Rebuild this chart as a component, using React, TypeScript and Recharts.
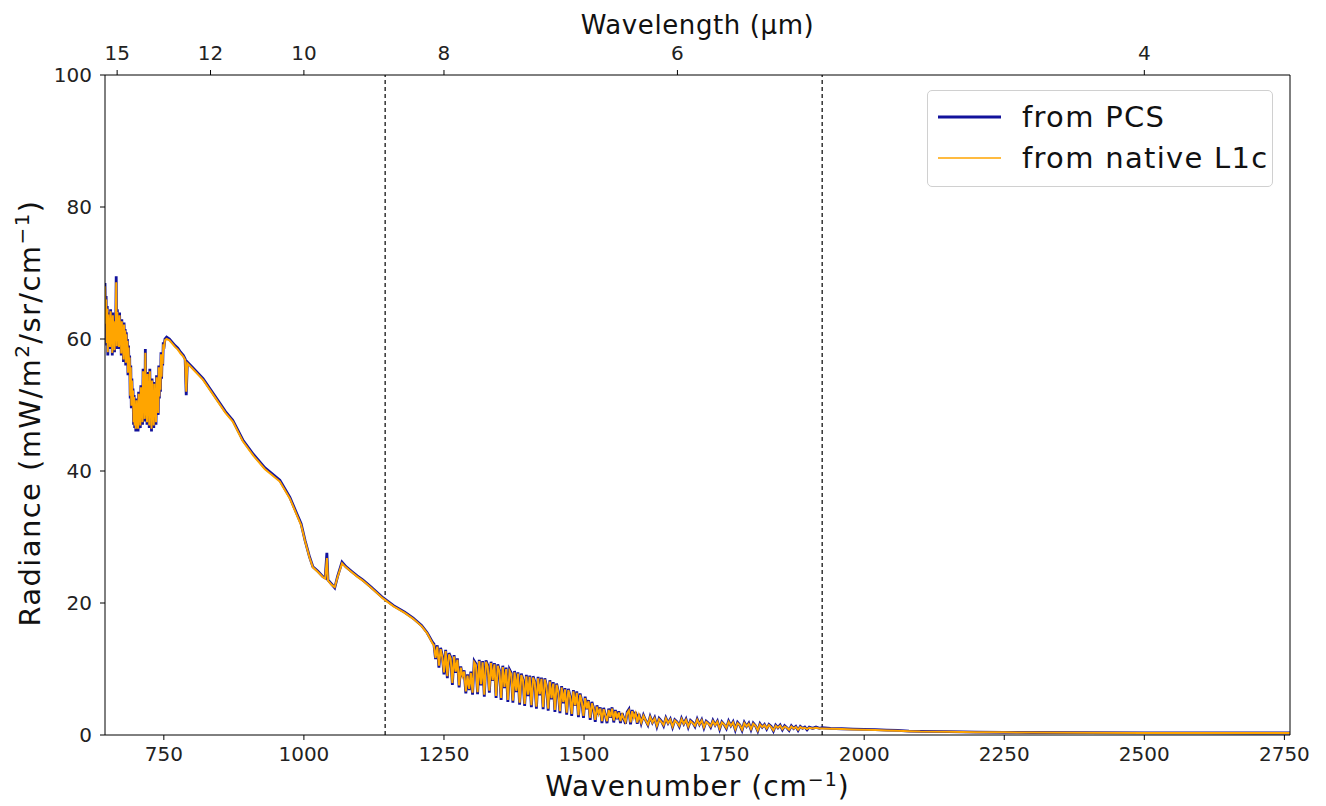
import React from 'react';
import { LineChart, Line, XAxis, YAxis, ReferenceLine } from 'recharts';

// spectrum: wavenumber in cm-1, radiance in mW/m2/sr/cm-1

// CO2 band, 645-752 cm-1
const co2Wn = [
  645, 646, 647, 648, 649, 650, 651, 652, 653, 654, 655, 656, 657, 658, 659, 660, 661, 662, 663, 664,
  665, 666, 667, 668, 669, 670, 671, 672, 673, 674, 675, 676, 677, 678, 679, 680, 681, 682, 683, 684,
  685, 686, 687, 688, 689, 690, 691, 692, 693, 694, 695, 696, 697, 698, 699, 700, 701, 702, 703, 704,
  705, 706, 707, 708, 709, 710, 711, 712, 713, 714, 715, 716, 717, 718, 719, 720, 721, 722, 723, 724,
  725, 726, 727, 728, 729, 730, 731, 732, 733, 734, 735, 736, 737, 738, 739, 740, 741, 742, 743, 744,
  745, 746, 747, 748, 749, 750, 752,
];
const co2Pcs = [
  68.5, 62, 66.5, 59, 65, 57.5, 64, 60.5, 63.5, 58.5, 64.5, 61, 63, 57.5, 64, 60, 62.5, 58, 63, 60.5,
  69.5, 58.5, 64.5, 61, 63, 58.5, 64, 60, 62.5, 57.5, 63, 59.5, 62, 56.5, 62.5, 59, 61.5, 56, 61, 57.5,
  60, 54.5, 59, 55, 57.5, 51, 56, 49.5, 54, 50, 52.5, 47, 51.5, 46.5, 50, 46, 51, 47.5, 49, 46,
  52, 48, 50.5, 46.5, 53, 48.5, 51, 47, 55.5, 49.5, 53, 47.5, 58.5, 48, 54.5, 47, 55, 49, 52.5, 46.5,
  55.5, 48.5, 53, 46, 54, 47.5, 52, 46.5, 53.5, 48, 52.5, 47, 54.5, 49.5, 53, 48.5, 56, 51, 55.5, 52,
  58, 54, 57.5, 56, 59.5, 58.5, 60,
];
const co2L1c = [
  68, 62.3, 66, 59.4, 64.6, 58, 63.7, 60.7, 63.2, 58.8, 64.2, 61.2, 62.8, 57.9, 63.6, 60.2, 62.3, 58.3, 62.7, 60.6,
  68.6, 58.9, 64.1, 61.2, 62.8, 58.8, 63.6, 60.2, 62.3, 57.8, 62.7, 59.7, 61.8, 56.9, 62.2, 59.2, 61.3, 56.4, 60.7, 57.8,
  59.7, 54.9, 58.7, 55.3, 57.2, 51.4, 55.7, 49.9, 53.7, 50.3, 52.2, 47.4, 51.2, 46.9, 49.7, 46.4, 50.7, 47.8, 48.8, 46.4,
  51.7, 48.3, 50.2, 46.9, 52.7, 48.8, 50.8, 47.4, 55.1, 49.8, 52.7, 47.9, 57.9, 48.4, 54.2, 47.4, 54.7, 49.3, 52.3, 46.9,
  55.1, 48.8, 52.8, 46.4, 53.7, 47.9, 51.8, 46.9, 53.2, 48.3, 52.3, 47.4, 54.2, 49.8, 52.8, 48.8, 55.7, 51.3, 55.2, 52.3,
  57.7, 54.3, 57.2, 56.2, 59.2, 58.4, 59.8,
];

// window region, 755-1230 cm-1
const windowWn = [
  755, 760, 765, 770, 775, 780, 785, 788, 790, 792, 800, 820, 840, 860, 873, 891, 910, 930, 957, 975,
  987, 995, 1002, 1010, 1016, 1025, 1034, 1038, 1041, 1043, 1050, 1055, 1060, 1068, 1075, 1085, 1095, 1105, 1120, 1141,
  1160, 1180, 1195, 1210, 1220, 1230,
];
const windowPcs = [
  60.3, 60, 59.5, 59, 58.6, 58, 57.5, 57, 51.5, 56.5, 55.8, 54, 51.5, 49, 47.7, 44.7, 42.5, 40.5, 38.6, 36,
  33.6, 32, 29.5, 27, 25.5, 24.8, 24, 23.8, 27.6, 23.5, 22.8, 22.3, 24, 26.2, 25.5, 24.8, 24.1, 23.5, 22.4, 20.8,
  19.6, 18.6, 17.7, 16.6, 15.5, 14,
];
const windowL1c = [
  60, 59.8, 59.3, 58.8, 58.4, 57.8, 57.3, 56.8, 52, 56.3, 55.6, 53.8, 51.3, 48.8, 47.5, 44.5, 42.3, 40.3, 38.4, 35.8,
  33.4, 31.8, 29.4, 26.9, 25.4, 24.7, 23.9, 23.7, 26.8, 23.4, 22.7, 22.4, 23.9, 26, 25.4, 24.7, 24, 23.4, 22.3, 20.7,
  19.5, 18.5, 17.6, 16.5, 15.4, 13.8,
];

// water vapour band, 1232-1598 cm-1
const waterWn = [
  1232, 1235, 1238, 1241, 1244, 1247, 1250, 1253, 1256, 1259, 1262, 1265, 1268, 1271, 1274, 1277, 1280, 1283, 1286, 1289,
  1292, 1295, 1298, 1301, 1304, 1307, 1310, 1313, 1316, 1319, 1322, 1325, 1328, 1331, 1334, 1337, 1340, 1343, 1346, 1349,
  1352, 1355, 1358, 1361, 1364, 1367, 1370, 1373, 1376, 1379, 1382, 1385, 1388, 1391, 1394, 1397, 1400, 1403, 1406, 1409,
  1412, 1415, 1418, 1421, 1424, 1427, 1430, 1433, 1436, 1439, 1442, 1445, 1448, 1451, 1454, 1457, 1460, 1463, 1466, 1469,
  1472, 1475, 1478, 1481, 1484, 1487, 1490, 1493, 1496, 1499, 1502, 1505, 1508, 1511, 1514, 1517, 1520, 1523, 1526, 1529,
  1532, 1535, 1538, 1541, 1544, 1547, 1550, 1553, 1556, 1559, 1562, 1565, 1568, 1571, 1574, 1577, 1580, 1583, 1586, 1589,
  1592, 1595, 1598,
];
const waterPcs = [
  13.8, 11.5, 13.6, 10.2, 13.2, 12, 9.2, 12.9, 8.6, 12.4, 11.8, 7.6, 12.1, 9.4, 11.6, 7.2, 10.4, 8.8, 9.8, 6.3,
  9.2, 6.8, 9.6, 6.1, 11.2, 10.8, 6.2, 11.4, 7.5, 11.2, 5.8, 11.3, 10.6, 6.4, 11.1, 8.2, 10.9, 5.6, 10.7, 9.8,
  5.3, 10.5, 7.1, 10.2, 5, 9.9, 9.4, 4.9, 9.7, 6.5, 9.5, 4.6, 9.3, 8.4, 4.4, 9.1, 5.9, 9, 4.2, 8.9,
  8.1, 4, 8.8, 6, 8.7, 3.9, 8.6, 7.4, 3.7, 8.3, 5.4, 8, 3.5, 7.8, 6.6, 3.3, 7.4, 4.8, 7.1, 3.1,
  7, 5.9, 2.9, 6.8, 4.4, 6.6, 2.7, 6.3, 5.1, 2.6, 5.8, 3.9, 5.3, 2.3, 5, 4.1, 2, 4.5, 3.1, 4.2,
  1.8, 4.1, 3, 1.8, 4, 2.6, 4.2, 1.9, 3.8, 2.4, 3.6, 1.8, 3.3, 2.5, 1.7, 3.5, 3.9, 1.6, 3.8, 2.6,
  3.5, 1.7, 3.2,
];
const waterL1c = [
  13.6, 11.7, 13.4, 10.5, 13, 11.8, 9.5, 12.7, 8.9, 12.2, 11.6, 7.9, 11.9, 9.6, 11.4, 7.5, 10.2, 8.9, 9.6, 6.6,
  9, 7, 9.4, 6.4, 11, 10.6, 6.5, 11.2, 7.7, 11, 6.1, 11.1, 10.4, 6.7, 10.9, 8.3, 10.7, 5.9, 10.5, 9.6,
  5.6, 10.3, 7.3, 10, 5.3, 9.7, 9.2, 5.2, 9.5, 6.7, 9.3, 4.9, 9.1, 8.3, 4.7, 8.9, 6.1, 8.8, 4.5, 8.7,
  8, 4.3, 8.6, 6.2, 8.5, 4.2, 8.4, 7.3, 4, 8.1, 5.6, 7.8, 3.8, 7.6, 6.5, 3.6, 7.2, 5, 6.9, 3.4,
  6.8, 5.8, 3.2, 6.6, 4.5, 6.4, 3, 6.1, 5, 2.9, 5.6, 4, 5.1, 2.6, 4.8, 4, 2.3, 4.3, 3.2, 4,
  2.1, 3.9, 3, 2.1, 3.8, 2.7, 4, 2.2, 3.6, 2.5, 3.4, 2.1, 3.1, 2.5, 2, 3.3, 3.7, 1.9, 3.6, 2.6,
  3.3, 1.9, 3,
];

// upper water band, 1602-1925 cm-1
const upperWn = [
  1602, 1606, 1610, 1614, 1618, 1622, 1626, 1630, 1634, 1638, 1642, 1646, 1650, 1654, 1658, 1662, 1666, 1670, 1674, 1678,
  1682, 1686, 1690, 1694, 1698, 1702, 1706, 1710, 1714, 1718, 1722, 1726, 1730, 1734, 1738, 1742, 1746, 1750, 1754, 1758,
  1762, 1766, 1770, 1774, 1778, 1782, 1786, 1790, 1794, 1798, 1802, 1806, 1810, 1814, 1818, 1822, 1826, 1830, 1834, 1838,
  1842, 1846, 1850, 1854, 1858, 1862, 1866, 1870, 1874, 1878, 1882, 1886, 1890, 1894, 1898, 1902, 1908, 1914, 1920, 1925,
];
const upperPcs = [
  1.8, 3, 2.2, 1.5, 2.8, 1.9, 2.6, 1.3, 2.5, 2.1, 1.4, 2.6, 1.8, 2.4, 1.2, 2.3, 2, 1.3, 2.5, 1.7,
  2.4, 1.2, 2.2, 1.9, 1.3, 2.4, 1.6, 2.3, 1.1, 2.1, 1.8, 1.2, 2.2, 1.5, 2.1, 0.9, 2, 1.6, 1, 2.1,
  1.4, 2, 0.8, 1.9, 1.5, 0.7, 1.9, 1.3, 1.8, 0.8, 1.8, 1.4, 0.6, 1.7, 1.2, 1.6, 0.9, 1.6, 1.3, 0.6,
  1.5, 1.1, 1.5, 0.8, 1.4, 1.1, 0.7, 1.4, 1, 1.3, 0.7, 1.3, 1, 1.2, 0.8, 1.2, 1, 1.2, 1, 1.1,
];
const upperL1c = [
  1.9, 2.9, 2.2, 1.6, 2.7, 1.9, 2.5, 1.4, 2.4, 2, 1.5, 2.5, 1.8, 2.3, 1.3, 2.2, 1.9, 1.4, 2.4, 1.7,
  2.3, 1.3, 2.1, 1.8, 1.4, 2.3, 1.6, 2.2, 1.2, 2, 1.7, 1.3, 2.1, 1.5, 2, 1, 1.9, 1.6, 1.1, 2,
  1.4, 1.9, 0.9, 1.8, 1.5, 0.8, 1.8, 1.3, 1.7, 0.9, 1.7, 1.4, 0.7, 1.6, 1.2, 1.5, 1, 1.5, 1.2, 0.7,
  1.4, 1.1, 1.4, 0.9, 1.3, 1.1, 0.8, 1.3, 1, 1.2, 0.8, 1.2, 1, 1.1, 0.9, 1.1, 1, 1.1, 1, 1,
];

// short-wave tail, 1940-2760 cm-1
const tailWn = [1940, 1960, 1980, 2000, 2020, 2040, 2060, 2080, 2100, 2150, 2200, 2250, 2300, 2400, 2500, 2600, 2700, 2760];
const tailPcs = [1, 0.95, 0.9, 0.85, 0.8, 0.75, 0.7, 0.6, 0.55, 0.5, 0.45, 0.4, 0.38, 0.35, 0.33, 0.32, 0.3, 0.3];
const tailL1c = [0.95, 0.9, 0.85, 0.8, 0.75, 0.7, 0.65, 0.58, 0.52, 0.48, 0.43, 0.4, 0.37, 0.34, 0.32, 0.31, 0.3, 0.3];

const radianceTicks = [0, 20, 40, 60, 80, 100];
const wavenumberTicks = [750, 1000, 1250, 1500, 1750, 2000, 2250, 2500, 2750];
const wavelengthTicks = [15, 12, 10, 8, 6, 4];
const bandLimits = [1145, 1925];

const wavenumber = [...co2Wn, ...windowWn, ...waterWn, ...upperWn, ...tailWn];
const pcsRadiance = [...co2Pcs, ...windowPcs, ...waterPcs, ...upperPcs, ...tailPcs];
const l1cRadiance = [...co2L1c, ...windowL1c, ...waterL1c, ...upperL1c, ...tailL1c];

const data = wavenumber.map((wn, i) => ({ wn, pcs: pcsRadiance[i], l1c: l1cRadiance[i] }));

const font = '"DejaVu Sans", sans-serif';
const tickStyle = { fill: '#222', fontSize: 20, fontFamily: font };
const pcsColor = '#12129c';
const l1cColor = '#FFA500';

const LegendBox = () => (
  <div
    style={{
      position: 'absolute',
      left: 927,
      top: 90,
      border: '1px solid #d0d0d0',
      borderRadius: 5,
      background: '#fff',
      width: 346,
      height: 97,
      boxSizing: 'border-box',
      fontFamily: font,
      fontSize: 29,
      letterSpacing: 1.3,
      color: '#111',
      padding: '5px 0 0 10px',
    }}
  >
    <div style={{ display: 'flex', alignItems: 'center', height: 41 }}>
      <svg width={63} height={6} style={{ marginRight: 21 }}>
        <line x1={0} y1={3} x2={63} y2={3} stroke={pcsColor} strokeWidth={3} />
      </svg>
      <span>from PCS</span>
    </div>
    <div style={{ display: 'flex', alignItems: 'center', height: 41 }}>
      <svg width={63} height={6} style={{ marginRight: 21 }}>
        <line x1={0} y1={3} x2={63} y2={3} stroke={l1cColor} strokeWidth={1.5} />
      </svg>
      <span>from native L1c</span>
    </div>
  </div>
);

export default function App() {
  return (
    <div style={{ position: 'absolute', left: 0, top: 0, width: 1326, height: 806, background: '#fff' }}>
      <LineChart
        width={1326}
        height={806}
        data={data}
        margin={{ top: 35, right: 35, bottom: 11, left: 45 }}
      >
        <XAxis
          xAxisId="bottom"
          dataKey="wn"
          type="number"
          domain={[645, 2760]}
          allowDataOverflow
          ticks={wavenumberTicks}
          height={60}
          tick={tickStyle}
          tickSize={5}
          tickMargin={7}
          stroke="#000"
        />
        <XAxis
          xAxisId="top"
          dataKey="wn"
          orientation="top"
          type="number"
          domain={[645, 2760]}
          allowDataOverflow
          ticks={wavelengthTicks.map((l) => 10000 / l)}
          tickFormatter={(v: number) => String(Math.round(10000 / v))}
          height={40}
          tick={tickStyle}
          tickSize={5}
          tickMargin={10}
          stroke="#000"
        />
        <YAxis
          yAxisId="left"
          domain={[0, 100]}
          ticks={radianceTicks}
          width={60}
          tick={tickStyle}
          tickSize={5}
          tickMargin={8}
          stroke="#000"
        />
        <YAxis yAxisId="right" orientation="right" domain={[0, 100]} width={1} tick={false} tickLine={false} stroke="#000" />
        {bandLimits.map((x) => (
          <ReferenceLine
            key={x}
            x={x}
            xAxisId="bottom"
            yAxisId="left"
            stroke="#000"
            strokeWidth={1.2}
            strokeDasharray="4 3"
          />
        ))}
        <Line
          xAxisId="bottom"
          yAxisId="left"
          type="linear"
          dataKey="pcs"
          name="from PCS"
          stroke={pcsColor}
          strokeWidth={2.8}
          dot={false}
          isAnimationActive={false}
        />
        <Line
          xAxisId="bottom"
          yAxisId="left"
          type="linear"
          dataKey="l1c"
          name="from native L1c"
          stroke={l1cColor}
          strokeWidth={2}
          dot={false}
          isAnimationActive={false}
        />
      </LineChart>

      <LegendBox />

      <div
        style={{
          position: 'absolute',
          left: 105,
          width: 1185,
          top: 10,
          textAlign: 'center',
          fontFamily: font,
          fontSize: 26,
          letterSpacing: 0.6,
          color: '#111',
        }}
      >
        Wavelength (µm)
      </div>
      <div
        style={{
          position: 'absolute',
          left: 105,
          width: 1185,
          top: 770,
          textAlign: 'center',
          fontFamily: font,
          fontSize: 28,
          letterSpacing: 1,
          color: '#111',
          lineHeight: '34px',
        }}
      >
        Wavenumber (cm<sup style={{ fontSize: 19, lineHeight: 0 }}>−1</sup>)
      </div>
      <div
        style={{
          position: 'absolute',
          left: 30,
          top: 413,
          transform: 'translate(-50%, -50%) rotate(-90deg)',
          whiteSpace: 'nowrap',
          fontFamily: font,
          fontSize: 29,
          letterSpacing: 1.4,
          color: '#111',
        }}
      >
        Radiance (mW/m<sup style={{ fontSize: 20, lineHeight: 0 }}>2</sup>/sr/cm
        <sup style={{ fontSize: 20, lineHeight: 0 }}>−1</sup>)
      </div>
    </div>
  );
}
